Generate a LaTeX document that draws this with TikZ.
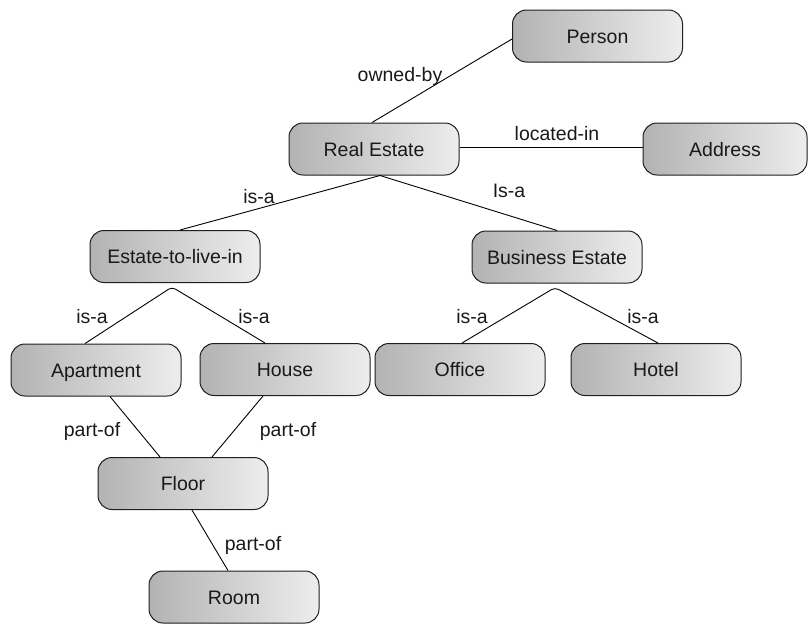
\documentclass[tikz,border=0pt]{standalone}
\usepackage{fontspec}
\setmainfont{Liberation Sans}
\begin{document}
\begin{tikzpicture}[x=1pt,y=-1pt,
  concept/.style={draw=black!88, line width=1pt, rounded corners=14pt,
    minimum width=170pt, minimum height=52pt, inner sep=0pt,
    left color=black!30, right color=black!7,
    font=\fontsize{19.5}{23}\selectfont, text=black!90,
    text height=14pt, text depth=0pt},
  rel/.style={inner sep=0pt, font=\fontsize{19.5}{23}\selectfont,
    text=black!90, text height=14pt, text depth=0pt},
  link/.style={draw=black, line width=0.9pt}]
\useasboundingbox (0,0) rectangle (808,624);

% concepts
\node[concept] (person) at (597.5,36) {Person};
\node[concept] (realestate) at (374,149) {Real Estate};
\node[concept, minimum width=164pt] (address) at (725,149) {Address};
\node[concept] (etli) at (175,256.5) {Estate-to-live-in};
\node[concept] (business) at (557,257) {Business Estate};
\node[concept] (apartment) at (96,370) {Apartment};
\node[concept] (house) at (285,369.5) {House};
\node[concept] (office) at (460,369.5) {Office};
\node[concept] (hotel) at (656,369.5) {Hotel};
\node[concept] (floor) at (183,483.5) {Floor};
\node[concept] (room) at (234,597) {Room};

% fork points below the parent concepts
\coordinate (etlifork) at ([xshift=-3pt,yshift=-4pt]etli.south);
\coordinate (busfork) at ([xshift=-2pt,yshift=-4pt]business.south);

% relations
\draw[link] ([xshift=-2pt]realestate.north) -- ([yshift=-3pt]person.west);
\draw[link] ([yshift=2pt]realestate.east) -- ([yshift=2pt]address.west);
\draw[link] ([xshift=5pt]etli.north) -- ([xshift=6pt]realestate.south) -- (business.north);
\draw[link, rounded corners=4pt] ([xshift=-11pt]apartment.north) -- (etlifork) -- ([xshift=-20pt]house.north);
\draw[link, rounded corners=4pt] ([xshift=2pt]office.north) -- (busfork) -- ([xshift=2pt]hotel.north);
\draw[link] ([xshift=14pt]apartment.south) -- ([xshift=-23pt]floor.north);
\draw[link] ([xshift=-22pt]house.south) -- ([xshift=29pt]floor.north);
\draw[link] ([xshift=9pt]floor.south) -- ([xshift=-6pt]room.north);

% relation labels
\node[rel] (lowned) at (400,74) {owned-by};
\node[rel] (llocated) at (557,133) {located-in};
\node[rel] (lisa1) at (259,196) {is-a};
\node[rel] (lisa2) at (509,190) {Is-a};
\node[rel] (lisa3) at (92,316) {is-a};
\node[rel] (lisa4) at (254,316) {is-a};
\node[rel] (lisa5) at (472,316) {is-a};
\node[rel] (lisa6) at (643,316) {is-a};
\node[rel] (lpart1) at (92,429) {part-of};
\node[rel] (lpart2) at (288,429) {part-of};
\node[rel] (lpart3) at (253,543) {part-of};
\end{tikzpicture}
\end{document}
